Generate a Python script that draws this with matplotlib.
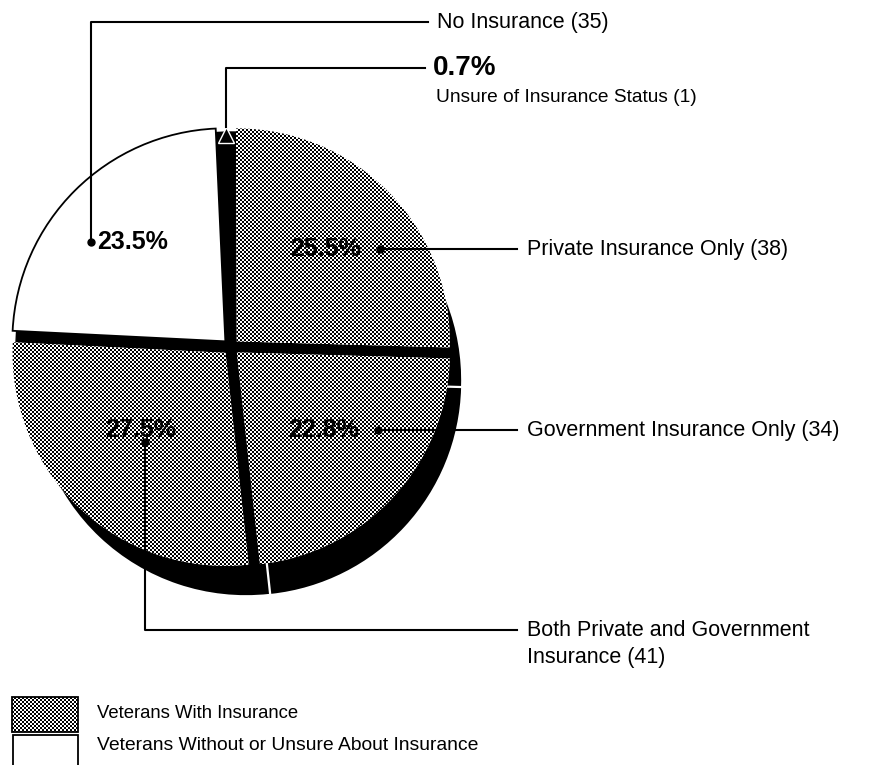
import numpy as np
import matplotlib
matplotlib.use("Agg")
import matplotlib.pyplot as plt
from matplotlib.patches import Circle, Rectangle

# ── Data ───────────────────────────────────────────────────────────────────────

# clockwise from 12 o'clock
groups = ["Unsure of Insurance Status", "Private Insurance Only",
          "Government Insurance Only", "Both Private and Government\nInsurance",
          "No Insurance"]
counts = [1, 38, 34, 41, 35]
insured = [False, True, True, True, False]
legend_labels = ["Veterans With Insurance",
                 "Veterans Without or Unsure About Insurance"]

pcts = [100 * c / sum(counts) for c in counts]

# ── Layout (pixel units, y measured from the top) ────────────────────────────

W, H = 886, 765
def py(y):
    return H - y

CX, CY, R = 231, py(347), 213
EXPL = 8            # pie explode is in data units here
SHADOW = (16, -34)
START = 92.6

plt.rcParams["font.family"] = ["Liberation Sans", "DejaVu Sans"]

fig = plt.figure(figsize=(W / 100, H / 100), dpi=100)
ax = fig.add_axes([0, 0, 1, 1])

# halftone screen used for the insured slices
yy, xx = np.mgrid[0:H, 0:W]
screen = ((xx // 2 + yy // 2) % 2).astype(float)

def halftone(clip):
    im = ax.imshow(screen, cmap="gray", vmin=0, vmax=1, extent=(0, W, 0, H),
                   origin="lower", interpolation="nearest", zorder=1.5)
    im.set_clip_path(clip)

explode = [0 if i == 0 else EXPL for i in range(len(counts))]

# drop shadow, one wedge at a time (only slightly split)
ax.pie(counts, center=(CX + SHADOW[0], CY + SHADOW[1]), radius=R,
       explode=[e / 5 for e in explode], startangle=START, counterclock=False,
       colors=["black"] * len(counts), wedgeprops=dict(linewidth=0))
# black under the gaps between slices
ax.add_patch(Circle((CX, CY), R + 2, color="black", zorder=0.5))

faces = ["black" if i == 0 else "white" for i in range(len(counts))]
wedges, _ = ax.pie(counts, center=(CX, CY), radius=R, explode=explode,
                   startangle=START, counterclock=False, colors=faces,
                   wedgeprops=dict(edgecolor="black", linewidth=0))
for w, ins in zip(wedges, insured):
    w.set_zorder(1)
    if ins:
        halftone(w)
    else:
        w.set_linewidth(1.3)

# arrow marking the thin "unsure" slice
mid = np.deg2rad((wedges[0].theta1 + wedges[0].theta2) / 2)
ax_x = CX + (R - 1) * np.cos(mid)
ax_y = CY + (R - 1) * np.sin(mid)
ax.plot([ax_x], [ax_y], marker="^", ms=12, color="black",
        markeredgecolor="white", markeredgewidth=1.0, zorder=3)

LW = 1.5
lab_fs = 15.5
pct_fs = 18

def fmt(p):
    return f"{p:.1f}%"

# No Insurance: dot inside white slice, leader up and right
ax.plot([91, 91, 428], [py(242), py(22), py(22)], color="black", lw=LW, zorder=3)
ax.plot([91], [py(242)], "o", ms=5, color="black", zorder=3)
ax.text(97, py(242), fmt(pcts[4]), fontsize=pct_fs, fontweight="bold",
        ha="left", va="center", zorder=4)
ax.text(437, py(22), f"No Insurance ({counts[4]})", fontsize=lab_fs,
        ha="left", va="center")

# Unsure: leader from arrow tip
ax.plot([ax_x, ax_x, 425], [ax_y + 8, py(68), py(68)], color="black", lw=LW, zorder=3)
ax.text(433, py(68), fmt(pcts[0]), fontsize=20, fontweight="bold",
        ha="left", va="center")
ax.text(436, py(97), f"Unsure of Insurance Status ({counts[0]})",
        fontsize=13.8, ha="left", va="center")

# Private only
ax.plot([380, 517], [py(249), py(249)], color="black", lw=LW, zorder=3)
ax.plot([380], [py(249)], "o", ms=5, color="black", zorder=3)
ax.text(326, py(249), fmt(pcts[1]), fontsize=pct_fs, fontweight="bold",
        ha="center", va="center", zorder=4)
ax.text(527, py(249), f"Private Insurance Only ({counts[1]})", fontsize=lab_fs,
        ha="left", va="center")

# Government only
ax.plot([378, 517], [py(430), py(430)], color="black", lw=LW, zorder=3)
ax.plot([378], [py(430)], "o", ms=5, color="black", zorder=3)
ax.text(324, py(430), fmt(pcts[2]), fontsize=pct_fs, fontweight="bold",
        ha="center", va="center", zorder=4)
ax.text(527, py(430), f"Government Insurance Only ({counts[2]})", fontsize=lab_fs,
        ha="left", va="center")

# Both
ax.plot([145, 145, 517], [py(442), py(630), py(630)], color="black", lw=LW, zorder=3)
ax.plot([145], [py(442)], "o", ms=5, color="black", zorder=3)
ax.text(141, py(430), fmt(pcts[3]), fontsize=pct_fs, fontweight="bold",
        ha="center", va="center", zorder=4)
ax.text(527, py(630), "Both Private and Government", fontsize=lab_fs,
        ha="left", va="center")
ax.text(527, py(658), f"Insurance ({counts[3]})", fontsize=lab_fs,
        ha="left", va="center")

# legend
box = Rectangle((12, py(732)), 66, 35, facecolor="white", lw=0, zorder=1)
ax.add_patch(box)
halftone(box)
ax.add_patch(Rectangle((12, py(732)), 66, 35, facecolor="none",
                       edgecolor="black", lw=1.3, zorder=2.5))
ax.add_patch(Rectangle((13, py(768)), 65, 33, facecolor="white",
                       edgecolor="black", lw=1.3, zorder=2))
ax.text(97, py(713), legend_labels[0], fontsize=13.3, ha="left", va="center")
ax.text(97, py(746), legend_labels[1], fontsize=13.9, ha="left", va="center")

ax.set_xlim(0, W)
ax.set_ylim(0, H)
ax.set_aspect("auto")
ax.axis("off")

fig.savefig("out.png", dpi=100)
